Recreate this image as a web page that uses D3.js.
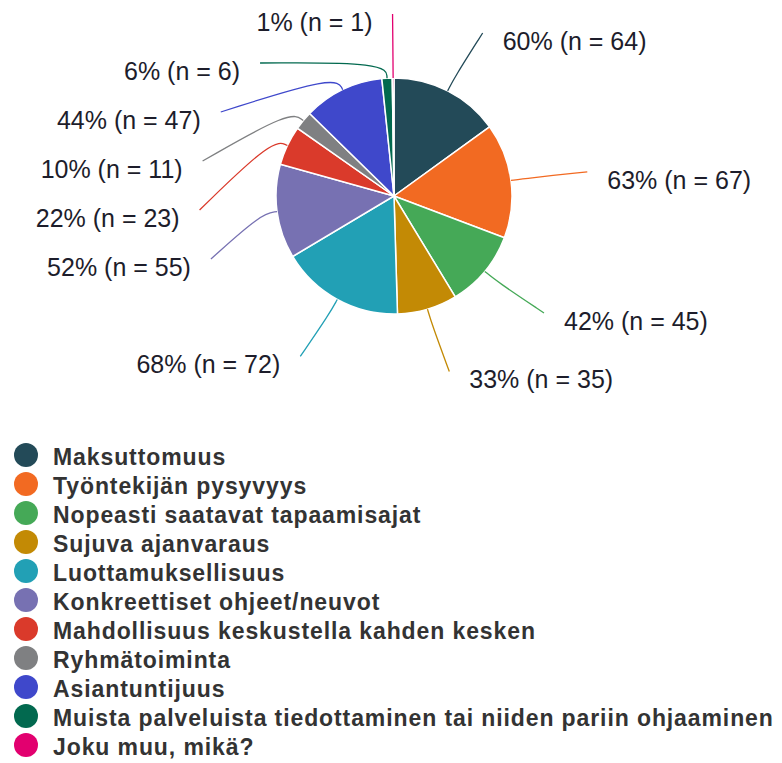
<!DOCTYPE html>
<meta charset="utf-8">
<script src="https://d3js.org/d3.v7.min.js"></script>
<style>
  body { margin: 0; background: #fff; }
</style>
<body>
<svg width="782" height="763"></svg>
<script>

    const categories = ["Maksuttomuus", "Työntekijän pysyvyys", "Nopeasti saatavat tapaamisajat",
        "Sujuva ajanvaraus", "Luottamuksellisuus", "Konkreettiset ohjeet/neuvot",
        "Mahdollisuus keskustella kahden kesken", "Ryhmätoiminta", "Asiantuntijuus",
        "Muista palveluista tiedottaminen tai niiden pariin ohjaaminen", "Joku muu, mikä?"];
    const counts = [64, 67, 45, 35, 72, 55, 23, 11, 47, 6, 1];
    const percents = [60, 63, 42, 33, 68, 52, 22, 10, 44, 6, 1];
    const colors = ["#234a58", "#f26a22", "#45a957", "#c38a05", "#22a0b5", "#7771b2",
        "#da3a2b", "#7f8082", "#3f48cb", "#02694f", "#e2006f"];

    function pie_chart() {
        const cx = 394, cy = 196, radius = 118,
            rx = 195, ry = 183, minGap = 49, topY = 14;

        const svg = d3.select('svg')
        const data = categories.map((c, i) => ({name: c, n: counts[i], pct: percents[i], color: colors[i]}))

        const pie = d3.pie().sort(null).value(d => d.n)
        const arcs = pie(data)
        const arc = d3.arc().innerRadius(0).outerRadius(radius)

        const g = svg.append('g').attr('transform', 'translate(' + cx + ',' + cy + ')')

        g.selectAll('path.slice')
            .data(arcs)
            .enter().append('path')
            .attr('class', 'slice')
            .attr('d', arc)
            .attr('fill', d => d.data.color)
            .attr('stroke', 'white')
            .attr('stroke-width', 1.5)

        // label layout: place on an ellipse round the pie, spread vertically per side
        const labels = arcs.map(d => {
            const a = (d.startAngle + d.endAngle) / 2
            return {
                d: d, a: a,
                side: Math.sin(a) >= 0 ? 1 : -1,
                x0: rx * Math.sin(a),
                y0: -ry * Math.cos(a)
            }
        })
        ;[1, -1].forEach(side => {
            const list = labels.filter(l => l.side === side).sort((p, q) => p.y0 - q.y0)
            let prev = -Infinity
            list.forEach(l => {
                const y = Math.max(l.y0, prev + minGap, topY - cy)
                l.y = y
                prev = y
                if (Math.abs(y - l.y0) < 12) {
                    l.x = l.x0
                } else {
                    const t = Math.min(Math.abs(y) / ry, 1)
                    l.x = side * rx * Math.sqrt(1 - t * t)
                }
            })
        })

        const line = d3.line().curve(d3.curveBasis)

        g.selectAll('path.leader')
            .data(labels)
            .enter().append('path')
            .attr('class', 'leader')
            .attr('d', l => {
                const p0 = [radius * Math.sin(l.a), -radius * Math.cos(l.a)]
                const p1 = [(radius + 16) * Math.sin(l.a), -(radius + 16) * Math.cos(l.a)]
                const p2 = [l.x, l.y]
                return line([p0, p0, p1, p2, p2])
            })
            .attr('fill', 'none')
            .attr('stroke', l => l.d.data.color)
            .attr('stroke-width', 1.3)

        g.selectAll('text.value')
            .data(labels)
            .enter().append('text')
            .attr('class', 'value')
            .attr('x', l => l.x + l.side * 20)
            .attr('y', l => l.y + 8)
            .attr('text-anchor', l => l.side > 0 ? 'start' : 'end')
            .attr('dominant-baseline', 'central')
            .style('font-family', 'Liberation Sans, Arial, sans-serif')
            .style('font-size', '25px')
            .attr('fill', '#1d1d2b')
            .text(l => l.d.data.pct + '% (n = ' + l.d.data.n + ')')

        // legend
        const legendY = d3.scalePoint().domain(categories).range([455, 745])

        const legend = svg.append('g')
        legend.selectAll('circle')
            .data(data)
            .enter().append('circle')
            .attr('cx', 26)
            .attr('cy', d => legendY(d.name))
            .attr('r', 12)
            .attr('fill', d => d.color)

        legend.selectAll('text')
            .data(data)
            .enter().append('text')
            .attr('x', 53)
            .attr('y', d => legendY(d.name) + 2)
            .attr('dominant-baseline', 'central')
            .style('font-family', 'Liberation Sans, Arial, sans-serif')
            .style('font-size', '23px')
            .style('font-weight', 'bold')
            .style('letter-spacing', '0.9px')
            .attr('fill', '#333')
            .text(d => d.name)
    }

    pie_chart();

</script>
</body>
